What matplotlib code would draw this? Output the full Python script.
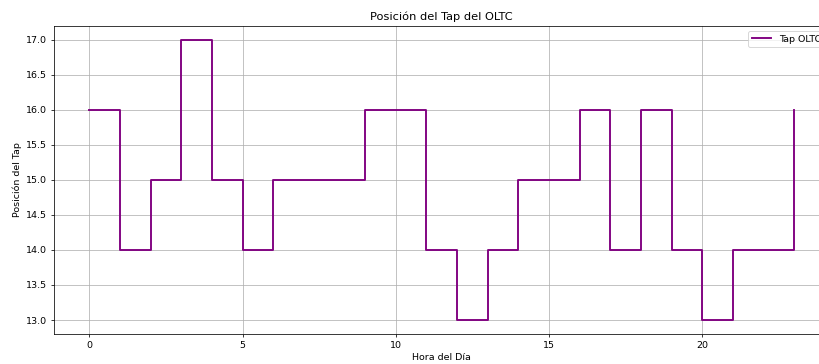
import matplotlib
matplotlib.use("Agg")
import matplotlib.pyplot as plt

# Hourly tap position of the on-load tap changer
horas = list(range(24))
tap = [16, 14, 15, 17, 15, 14, 15, 15, 15, 16, 16, 14,
       13, 14, 15, 15, 16, 14, 16, 14, 13, 14, 14, 16]

DPI = 68.25
fig = plt.figure(figsize=(819 / DPI, 364 / DPI), dpi=DPI)
ax = fig.add_axes([54 / 819, 1 - 334 / 364, (829.5 - 54) / 819, (334 - 26) / 364])

ax.step(horas, tap, where="post", color="purple", linewidth=2, label="Tap OLTC")
ax.set_title("Posición del Tap del OLTC", fontsize=12)
ax.set_xlabel("Hora del Día", fontsize=10)
ax.set_ylabel("Posición del Tap", fontsize=10)
ax.grid(True)
ax.legend(loc="upper right", fontsize=10)

fig.savefig("out.png", dpi=DPI)
